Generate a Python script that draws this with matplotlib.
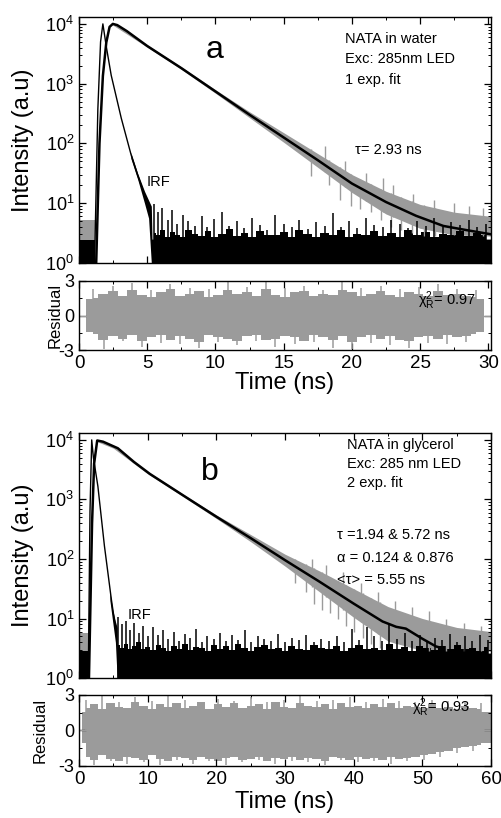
#time-resolved fluorescence decay of NATA: decay, IRF, fit and residuals
import matplotlib
matplotlib.use('Agg')
import matplotlib.pyplot as plt
from matplotlib.ticker import MultipleLocator, LogLocator, NullFormatter
import numpy as np

plt.rcParams['font.family'] = ['Liberation Sans', 'DejaVu Sans']
plt.rcParams['mathtext.default'] = 'regular'
plt.rcParams['axes.unicode_minus'] = False

GRAY = '#9b9b9b'

# ---------------- panel a : NATA in water (values are log10 of counts) ----------------
a_xmax = 30.2
a_fit_t = [1.26, 1.5, 1.75, 2.0, 2.24, 2.48, 2.8, 3.5, 5, 7.5, 10, 12.5, 15, 17.5, 20, 22.5, 24.7, 26.7, 28.4, 30.2]
a_fit_log = [0.0, 2.0, 3.13, 3.69, 3.95, 4.0, 3.98, 3.88, 3.63, 3.26, 2.87, 2.48, 2.1, 1.72, 1.33, 1.02, 0.79, 0.62, 0.55, 0.48]
a_irf_t = [1.14, 1.38, 1.58, 1.75, 2.0, 2.36, 3.1, 3.83, 4.3, 4.8]
a_irf_log = [0.0, 2.57, 3.7, 4.0, 3.62, 3.14, 2.42, 1.8, 1.47, 1.14]
a_data_t = [2.48, 5, 7.5, 10, 12.5, 15, 17.5, 20, 22.5, 25, 27.5, 30.2]
a_data_hi = [4.02, 3.65, 3.28, 2.9, 2.53, 2.18, 1.83, 1.48, 1.2, 0.98, 0.85, 0.78]
a_data_lo = [3.98, 3.61, 3.24, 2.84, 2.43, 2.02, 1.6, 1.18, 0.82, 0.58, 0.47, 0.45]
a_gsp_t = [17.0, 18.3, 19.1, 19.9, 20.6, 21.4, 22.1, 22.9, 23.6, 24.4, 25.3, 26.1]
a_gsp_lo = [1.45, 1.3, 1.05, 0.95, 0.9, 0.85, 0.72, 0.6, 0.55, 0.5, 0.45, 0.45]
a_gup_t = [18.0, 19.5, 21.0, 22.3, 23.0, 24.5, 26.0, 27.5, 28.6, 29.6]
a_gup_hi = [1.95, 1.7, 1.5, 1.42, 1.3, 1.15, 1.05, 1.0, 0.95, 0.92]
a_bg_t = [3.8, 4.3, 4.8, 5.1, 5.3, 5.35, 30.2]
a_bg_hi = [1.85, 1.5, 1.2, 1.05, 0.95, 0.4, 0.4]
a_bg_lo = [1.75, 1.4, 1.0, 0.75, 0.0, 0.0, 0.0]
a_pre_t = [0, 1.15]
a_pre_gray = 0.72
a_pre_black = 0.38
a_spk_t = [5.5, 5.8, 6.1, 6.5, 6.8, 7.2, 7.6, 8.0, 8.5, 9.0,
           9.4, 9.9, 10.5, 11.0, 11.6, 12.1, 12.7, 13.3, 13.8, 14.4,
           15.0, 15.6, 16.1, 16.8, 17.4, 18.0, 18.6, 19.2, 19.8, 20.4,
           21.0, 21.6, 22.3, 22.9, 23.5, 24.1, 24.8, 25.4, 26.0, 26.7,
           27.3, 27.9, 28.6, 29.2, 29.8]
a_spk_log = [0.98, 0.85, 0.92, 0.72, 0.88, 0.66, 0.8, 0.7, 0.62, 0.78,
             0.6, 0.74, 0.85, 0.62, 0.7, 0.58, 0.76, 0.64, 0.55, 0.8,
             0.66, 0.6, 0.72, 0.57, 0.68, 0.62, 0.84, 0.6, 0.7, 0.58,
             0.75, 0.64, 0.6, 0.72, 0.66, 0.58, 0.7, 0.62, 0.76, 0.6,
             0.68, 0.64, 0.72, 0.6, 0.66]
a_base_log = [0.5, 0.46, 0.55, 0.44, 0.52, 0.47, 0.43, 0.56, 0.48, 0.45,
              0.53, 0.44, 0.49, 0.57, 0.45, 0.5, 0.43, 0.54, 0.47, 0.46,
              0.52, 0.44, 0.56, 0.48, 0.43, 0.51, 0.46, 0.55, 0.44, 0.49,
              0.47, 0.53, 0.45, 0.5, 0.43, 0.56, 0.47, 0.52, 0.44, 0.49,
              0.46, 0.54, 0.45, 0.5, 0.47]
a_res_t = [0.5, 29.7]
a_res_hi = [1.4, 1.4]
a_res_lo = [-1.4, -1.4]
a_rsp_t = [1.0, 1.8, 2.5, 3.2, 3.9, 4.6, 5.3, 6.0, 6.7, 7.4,
           8.1, 8.8, 9.5, 10.2, 10.9, 11.6, 12.3, 13.0, 13.7, 14.4,
           15.1, 15.8, 16.5, 17.2, 17.9, 18.6, 19.3, 20.0, 20.7, 21.4,
           22.1, 22.8, 23.5, 24.2, 24.9, 25.6, 26.3, 27.0, 27.7, 28.4, 29.1]
a_rsp_val = [2.3, -2.9, 2.6, -2.2, 2.8, -2.7, 2.2, -2.4, 2.7, -2.5,
             2.4, -2.8, 2.3, -2.3, 2.9, -2.6, 2.5, -2.2, 3.0, -2.7,
             2.4, -2.5, 2.6, -2.3, 2.2, -2.8, 2.9, -2.9, 2.4, -2.4,
             2.6, -2.6, 2.3, -2.8, 2.5, -2.4, 2.7, -2.5, 2.3, -2.3, 2.2]
a_rb_hi = [1.5, 1.9, 2.1, 1.7, 2.2, 1.8, 1.6, 2.0, 2.3, 1.7,
           1.9, 2.1, 1.6, 1.8, 2.2, 1.9, 2.0, 1.7, 2.3, 1.8,
           1.6, 2.0, 2.1, 1.7, 1.9, 1.8, 2.2, 2.0, 1.7, 1.9,
           2.1, 1.8, 1.6, 2.0, 1.9, 1.7, 2.1, 1.8, 1.9, 1.7, 1.6]
a_rb_lo = [-1.6, -2.1, -1.8, -2.0, -1.7, -2.2, -1.9, -1.7, -2.1, -1.8,
           -2.0, -2.3, -1.7, -1.9, -2.0, -2.2, -1.8, -1.7, -2.1, -2.0,
           -1.8, -1.9, -2.2, -1.7, -1.9, -2.1, -1.8, -2.3, -1.9, -1.7,
           -2.0, -1.8, -2.1, -2.2, -1.9, -1.8, -2.0, -1.7, -1.9, -1.8, -1.6]

# ---------------- panel b : NATA in glycerol ----------------
b_xmax = 60
b_fit_t = [1.45, 1.9, 2.2, 2.65, 3.5, 5.65, 8, 10.3, 15, 20, 25, 30, 35, 40, 44.2, 46.2, 47.6, 50, 52, 53]
b_fit_log = [0.0, 2.6, 3.6, 3.99, 3.97, 3.86, 3.63, 3.43, 3.08, 2.71, 2.35, 1.98, 1.62, 1.25, 0.95, 0.86, 0.83, 0.66, 0.53, 0.5]
b_irf_t = [1.35, 1.6, 1.85, 2.1, 2.75, 3.7, 4.7, 5.4]
b_irf_log = [0.0, 2.8, 4.0, 3.7, 3.22, 2.22, 1.33, 0.78]
b_data_t = [2.65, 5, 10, 15, 20, 25, 30, 35, 40, 45, 50, 55, 60]
b_data_hi = [4.01, 3.9, 3.47, 3.1, 2.74, 2.41, 2.08, 1.8, 1.5, 1.2, 1.0, 0.85, 0.78]
b_data_lo = [3.97, 3.86, 3.43, 3.06, 2.68, 2.29, 1.88, 1.45, 1.02, 0.62, 0.46, 0.45, 0.45]
b_gsp_t = [31.5, 33.0, 34.2, 35.4, 36.6, 37.7, 38.9, 40.1, 41.3, 42.5, 43.8]
b_gsp_lo = [1.6, 1.45, 1.25, 1.15, 1.1, 1.0, 0.88, 0.78, 0.68, 0.58, 0.5]
b_gup_t = [34.0, 36.0, 38.5, 41.0, 43.5, 46.0, 48.5, 51.0, 53.5, 56.0, 58.5]
b_gup_hi = [2.0, 1.9, 1.78, 1.6, 1.45, 1.3, 1.2, 1.12, 1.0, 0.92, 0.88]
b_bg_t = [4.5, 4.9, 5.3, 5.55, 5.6, 60]
b_bg_hi = [1.45, 1.15, 0.95, 0.85, 0.42, 0.42]
b_bg_lo = [1.3, 0.95, 0.6, 0.0, 0.0, 0.0]
b_pre_t = [0, 1.35]
b_pre_gray = 0.75
b_pre_black = 0.45
b_spk_t = [5.7, 6.2, 6.8, 7.4, 8.0, 8.7, 9.3, 10.0, 10.8, 11.5,
           12.3, 13.0, 13.8, 14.6, 15.4, 16.2, 17.0, 17.9, 18.7, 19.6,
           20.5, 21.4, 22.3, 23.2, 24.1, 25.0, 26.0, 27.0, 28.0, 29.0,
           30.0, 31.0, 32.0, 33.1, 34.2, 35.3, 36.4, 37.5, 38.6, 39.7,
           40.8, 41.9, 43.0, 44.1, 45.2, 46.3, 47.4, 48.5, 49.6, 50.7,
           51.8, 52.9, 54.0, 55.1, 56.2, 57.3, 58.4, 59.5]
b_spk_log = [1.02, 0.9, 0.95, 0.8, 0.92, 0.75, 0.88, 0.7, 0.85, 0.72,
             0.8, 0.66, 0.78, 0.62, 0.74, 0.68, 0.82, 0.6, 0.7, 0.66,
             0.76, 0.62, 0.72, 0.64, 0.8, 0.6, 0.7, 0.66, 0.62, 0.74,
             0.6, 0.68, 0.64, 0.72, 0.6, 0.66, 0.62, 0.7, 0.6, 0.82,
             0.64, 0.86, 0.7, 0.62, 0.9, 0.66, 0.76, 0.62, 0.72, 0.6,
             0.68, 0.64, 0.74, 0.6, 0.7, 0.62, 0.72, 0.64]
b_base_log = [0.55, 0.5, 0.58, 0.48, 0.53, 0.6, 0.49, 0.52, 0.47, 0.56,
              0.5, 0.46, 0.54, 0.49, 0.58, 0.47, 0.52, 0.5, 0.46, 0.55,
              0.49, 0.53, 0.47, 0.58, 0.5, 0.46, 0.52, 0.55, 0.48, 0.5,
              0.46, 0.54, 0.49, 0.47, 0.56, 0.5, 0.48, 0.53, 0.46, 0.51,
              0.55, 0.48, 0.5, 0.47, 0.57, 0.49, 0.52, 0.46, 0.54, 0.5,
              0.47, 0.53, 0.49, 0.55, 0.48, 0.5, 0.46, 0.52]
b_res_t = [0.5, 60]
b_res_hi = [1.6, 1.6]
b_res_lo = [-1.1, -1.1]
b_rsp_t = [1.0, 2.2, 3.4, 4.6, 5.8, 7.0, 8.2, 9.4, 10.6, 11.8,
           13.0, 14.2, 15.4, 16.6, 17.8, 19.0, 20.2, 21.4, 22.6, 23.8,
           25.0, 26.2, 27.4, 28.6, 29.8, 31.0, 32.2, 33.4, 34.6, 35.8,
           37.0, 38.2, 39.4, 40.6, 41.8, 43.0, 44.2, 45.4, 46.6, 47.8,
           49.0, 50.2, 51.4, 52.6, 53.8, 55.0, 56.2, 57.4, 58.6]
b_rsp_val = [2.6, -2.9, 2.9, -2.6, 2.4, -2.8, 2.8, -2.7, 2.5, -2.9,
             2.9, -2.5, 2.6, -2.8, 2.4, -2.6, 2.7, -2.9, 2.5, -2.7,
             2.8, -2.5, 2.4, -2.8, 2.6, -2.6, 2.9, -2.7, 2.5, -2.9,
             2.6, -2.5, 2.8, -2.7, 2.4, -2.6, 2.7, -2.8, 2.5, -2.6,
             2.4, -2.5, 2.6, -2.2, 2.5, -1.9, 2.4, -1.7, 2.3]
b_rb_hi = [1.9, 2.2, 1.8, 2.3, 2.0, 1.9, 2.4, 2.1, 1.8, 2.2,
           2.0, 2.3, 1.9, 2.1, 2.4, 1.8, 2.2, 2.0, 2.3, 1.9,
           2.1, 2.2, 1.8, 2.4, 2.0, 1.9, 2.3, 2.1, 2.0, 2.2,
           1.8, 2.3, 2.0, 2.1, 1.9, 2.2, 2.0, 2.3, 1.9, 2.1,
           2.0, 1.9, 2.2, 1.9, 2.0, 1.8, 2.1, 1.9, 1.8]
b_rb_lo = [-2.2, -2.5, -2.1, -2.4, -2.6, -2.2, -2.3, -2.5, -2.1, -2.4,
           -2.6, -2.2, -2.3, -2.5, -2.2, -2.4, -2.6, -2.3, -2.2, -2.5,
           -2.4, -2.2, -2.6, -2.3, -2.4, -2.2, -2.5, -2.3, -2.4, -2.6,
           -2.2, -2.3, -2.5, -2.2, -2.4, -2.3, -2.5, -2.2, -2.4, -2.3,
           -2.2, -2.1, -2.0, -1.8, -1.7, -1.5, -1.4, -1.3, -1.2]


def p10(v):
	return np.power(10.0, np.asarray(v, dtype=float))


def style(ax):
	ax.tick_params(which='both', direction='in', top=True, right=True)
	ax.tick_params(which='major', length=5, width=0.9)
	ax.tick_params(which='minor', length=2.5, width=0.7)
	for s in ax.spines.values():
		s.set_linewidth(1.0)


def draw_decay(ax, d, xmax, major):
	ax.set_yscale('log')
	# measured decay (gray) and its excursions
	ax.fill_between(d['pre_t'], 1, 10 ** d['pre_gray'], color=GRAY, lw=0)
	ax.fill_between(d['data_t'], p10(d['data_lo']), p10(d['data_hi']), color=GRAY, lw=0)
	top = np.interp(d['gsp_t'], d['data_t'], d['data_hi'])
	ax.vlines(d['gsp_t'], p10(d['gsp_lo']), p10(top), color=GRAY, lw=1.0)
	bot = np.interp(d['gup_t'], d['data_t'], d['data_lo'])
	ax.vlines(d['gup_t'], p10(bot), p10(d['gup_hi']), color=GRAY, lw=1.0)
	# IRF background counts (black)
	ax.fill_between(d['pre_t'], 1, 10 ** d['pre_black'], color='k', lw=0)
	ax.fill_between(d['bg_t'], p10(d['bg_lo']), p10(d['bg_hi']), color='k', lw=0)
	ax.fill_between(d['spk_t'], 1, p10(d['base_log']), step='mid', color='k', lw=0)
	ax.vlines(d['spk_t'], 1, p10(d['spk_log']), color='k', lw=1.1)
	ax.plot(d['irf_t'], p10(d['irf_log']), color='k', lw=1.0)
	ax.plot(d['fit_t'], p10(d['fit_log']), color='k', lw=1.8, solid_joinstyle='round')
	ax.set_xlim(0, xmax)
	ax.set_ylim(1, 10 ** 4.115)
	ax.yaxis.set_major_locator(LogLocator(base=10, numticks=10))
	ax.yaxis.set_minor_locator(LogLocator(base=10, subs=np.arange(2, 10), numticks=20))
	ax.yaxis.set_minor_formatter(NullFormatter())
	ax.xaxis.set_major_locator(MultipleLocator(major))
	ax.xaxis.set_minor_locator(MultipleLocator(major / 2))
	ax.tick_params(labelbottom=False, labelsize=13)
	style(ax)
	ax.text(-0.137, 0.5, 'Intensity (a.u)', rotation=90, ha='center', va='center',
			fontsize=17, transform=ax.transAxes)


def draw_resid(ax, d, xmax, major, ylab_x, xlab_y):
	ax.axhline(0, color=GRAY, lw=0.9)
	ax.fill_between(d['res_t'], d['res_lo'], d['res_hi'], color=GRAY, lw=0)
	ax.fill_between(d['rsp_t'], d['rb_lo'], d['rb_hi'], step='mid', color=GRAY, lw=0)
	ax.vlines(d['rsp_t'], 0, d['rsp_val'], color=GRAY, lw=1.1)
	ax.set_xlim(0, xmax)
	ax.set_ylim(-3, 3)
	ax.set_yticks([-3, 0, 3])
	ax.yaxis.set_minor_locator(MultipleLocator(1.5))
	ax.xaxis.set_major_locator(MultipleLocator(major))
	ax.xaxis.set_minor_locator(MultipleLocator(major / 2))
	ax.tick_params(axis='x', labelsize=13.5)
	ax.tick_params(axis='y', labelsize=13)
	style(ax)
	ax.text(ylab_x, 0.5, 'Residual', rotation=90, ha='center', va='center',
			fontsize=12, transform=ax.transAxes)
	ax.text(0.5, xlab_y, 'Time (ns)', ha='center', va='center',
			fontsize=17, transform=ax.transAxes)


def pack(prefix):
	g = globals()
	keys = ['fit_t', 'fit_log', 'irf_t', 'irf_log', 'data_t', 'data_hi', 'data_lo',
			'gsp_t', 'gsp_lo', 'gup_t', 'gup_hi', 'bg_t', 'bg_hi', 'bg_lo', 'pre_t',
			'pre_gray', 'pre_black', 'spk_t', 'spk_log', 'base_log', 'res_t', 'res_hi',
			'res_lo', 'rsp_t', 'rsp_val', 'rb_hi', 'rb_lo']
	return {k: g[prefix + k] for k in keys}


fig = plt.figure(figsize=(5.01, 8.18), dpi=100)
ax_a = fig.add_axes([0.1577, 0.6785, 0.8224, 0.3007])
ax_ar = fig.add_axes([0.1577, 0.5721, 0.8224, 0.0844])
ax_b = fig.add_axes([0.1577, 0.1711, 0.8224, 0.2995])
ax_br = fig.add_axes([0.1577, 0.0636, 0.8224, 0.0868])

da = pack('a_')
db = pack('b_')
draw_decay(ax_a, da, a_xmax, 5)
draw_resid(ax_ar, da, a_xmax, 5, -0.058, -0.478)
draw_decay(ax_b, db, b_xmax, 10)
draw_resid(ax_br, db, b_xmax, 10, -0.095, -0.507)

#annotations, panel a
ax_a.text(0.33, 0.865, 'a', fontsize=23, ha='center', va='center', transform=ax_a.transAxes)
for i, line in enumerate(['NATA in water', 'Exc: 285nm LED', '1 exp. fit']):
	ax_a.text(0.646, 0.911 - i * 0.0835, line, fontsize=10.5, va='center', transform=ax_a.transAxes)
ax_a.text(0.67, 0.459, 'τ= 2.93 ns', fontsize=10.5, va='center', transform=ax_a.transAxes)
ax_a.text(0.165, 0.329, 'IRF', fontsize=10.5, va='center', transform=ax_a.transAxes)
ax_ar.text(0.823, 0.72, r'$\chi_R^2$= 0.97', fontsize=10.5, va='center', transform=ax_ar.transAxes)

#annotations, panel b
ax_b.text(0.318, 0.84, 'b', fontsize=23, ha='center', va='center', transform=ax_b.transAxes)
for i, line in enumerate(['NATA in glycerol', 'Exc: 285 nm LED', '2 exp. fit']):
	ax_b.text(0.65, 0.951 - i * 0.078, line, fontsize=10.5, va='center', transform=ax_b.transAxes)
for i, line in enumerate(['τ =1.94 & 5.72 ns', 'α = 0.124 & 0.876', '<τ> = 5.55 ns']):
	ax_b.text(0.626, 0.584 - i * 0.092, line, fontsize=10.5, va='center', transform=ax_b.transAxes)
ax_b.text(0.117, 0.257, 'IRF', fontsize=10.5, va='center', transform=ax_b.transAxes)
ax_br.text(0.808, 0.817, r'$\chi_R^2$= 0.93', fontsize=10.5, va='center', transform=ax_br.transAxes)

fig.savefig('out.png', dpi=100)
